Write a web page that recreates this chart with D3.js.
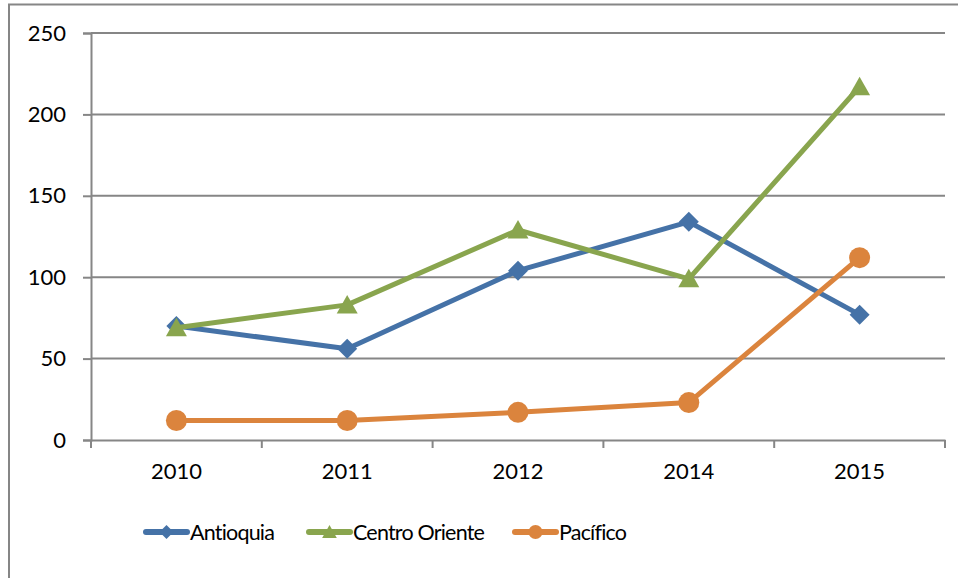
<!DOCTYPE html>
<html>
<head>
<meta charset="utf-8">
<script src="https://cdn.jsdelivr.net/npm/d3@7"></script>
<style>
  body { margin: 0; background: #fff; }
  text { font-family: Lato, "Open Sans", sans-serif; fill: #000; }
</style>
</head>
<body>
<svg id="chart" width="958" height="578"></svg>
<script>
var years = ["2010", "2011", "2012", "2014", "2015"];
var antioquia = [70, 56, 104, 134, 77];
var centroOriente = [69, 83, 129, 99, 217];
var pacifico = [12, 12, 17, 23, 112];
var yTicks = [0, 50, 100, 150, 200, 250];

var series = [
  {name: "Antioquia", values: antioquia, color: "#4572A7", marker: "diamond"},
  {name: "Centro Oriente", values: centroOriente, color: "#89A54E", marker: "triangle"},
  {name: "Pacífico", values: pacifico, color: "#DB843D", marker: "circle"}
];

var svg = d3.select("#chart");
var plotL = 91, plotR = 945, plotT = 33, plotB = 440;
var axisFont = 22, legendFont = 21.5;

// outer chart border (only top and left show in the picture)
svg.append("path")
  .attr("d", "M9,578V4.5H958")
  .attr("fill", "none")
  .attr("stroke", "#868686")
  .attr("stroke-width", 2);

var x = d3.scaleBand().domain(years).range([plotL, plotR]).padding(0);
var y = d3.scaleLinear().domain([0, 250]).range([plotB, plotT]);
function cx(d) { return x(d) + x.bandwidth() / 2; }

// gridlines
svg.append("g").selectAll("line")
  .data(yTicks.filter(function(t) { return t > 0; }))
  .enter().append("line")
  .attr("x1", plotL).attr("x2", plotR)
  .attr("y1", function(d) { return y(d); })
  .attr("y2", function(d) { return y(d); })
  .attr("stroke", "#868686")
  .attr("stroke-width", 2);

// y axis
var yAxis = svg.append("g")
  .attr("transform", "translate(" + plotL + ",0)")
  .call(d3.axisLeft(y).tickValues(yTicks).tickSize(8).tickPadding(17));
yAxis.select(".domain").attr("stroke", "#868686").attr("stroke-width", 2);
yAxis.selectAll(".tick line").attr("stroke", "#868686").attr("stroke-width", 2);
yAxis.selectAll("text").style("font-size", axisFont + "px").style("font-family", "Lato").attr("fill", "#000");

// x axis, ticks sit between the categories
var xAxis = svg.append("g")
  .attr("transform", "translate(0," + plotB + ")")
  .call(d3.axisBottom(x).tickSize(0).tickPadding(23));
xAxis.select(".domain").attr("stroke", "#868686").attr("stroke-width", 2);
xAxis.selectAll("text").style("font-size", axisFont + "px").style("font-family", "Lato").attr("fill", "#000");
var edges = years.map(function(d) { return x(d); }).concat([plotR]);
xAxis.selectAll(".edge")
  .data(edges)
  .enter().append("line")
  .attr("class", "edge")
  .attr("x1", function(d) { return d; })
  .attr("x2", function(d) { return d; })
  .attr("y1", 0).attr("y2", 8)
  .attr("stroke", "#868686")
  .attr("stroke-width", 2);

function markerPath(type, s) {
  if (type == "diamond") return "M0," + (-s) + "L" + s + ",0L0," + s + "L" + (-s) + ",0Z";
  if (type == "triangle") return "M0," + (-s) + "L" + (s * 1.05) + "," + (s * 0.85) + "L" + (-s * 1.05) + "," + (s * 0.85) + "Z";
  return "M" + (-s) + ",0A" + s + "," + s + " 0 1,0 " + s + ",0A" + s + "," + s + " 0 1,0 " + (-s) + ",0Z";
}

var line = d3.line()
  .x(function(d, i) { return cx(years[i]); })
  .y(function(d) { return y(d); });

series.forEach(function(s) {
  var g = svg.append("g");
  g.append("path")
    .attr("d", line(s.values))
    .attr("fill", "none")
    .attr("stroke", s.color)
    .attr("stroke-width", 5)
    .attr("stroke-linejoin", "round")
    .attr("stroke-linecap", "round");
  g.selectAll(".mk")
    .data(s.values)
    .enter().append("path")
    .attr("class", "mk")
    .attr("transform", function(d, i) { return "translate(" + cx(years[i]) + "," + y(d) + ")"; })
    .attr("d", markerPath(s.marker, s.marker == "circle" ? 10.5 : 10))
    .attr("fill", s.color);
});

// legend
var legendX = [146, 309, 515];
var legend = svg.selectAll(".legend")
  .data(series)
  .enter().append("g")
  .attr("class", "legend")
  .attr("transform", function(d, i) { return "translate(" + legendX[i] + ",532)"; });
legend.append("line")
  .attr("x1", 0).attr("x2", 41)
  .attr("stroke", function(d) { return d.color; })
  .attr("stroke-width", 6)
  .attr("stroke-linecap", "round");
legend.append("path")
  .attr("transform", "translate(20.5,0)")
  .attr("d", function(d) { return markerPath(d.marker, 7); })
  .attr("fill", function(d) { return d.color; });
legend.append("text")
  .attr("x", 44)
  .attr("dy", "0.36em")
  .style("font-size", legendFont + "px")
  .style("letter-spacing", "-0.8px")
  .text(function(d) { return d.name; });
</script>
</body>
</html>
